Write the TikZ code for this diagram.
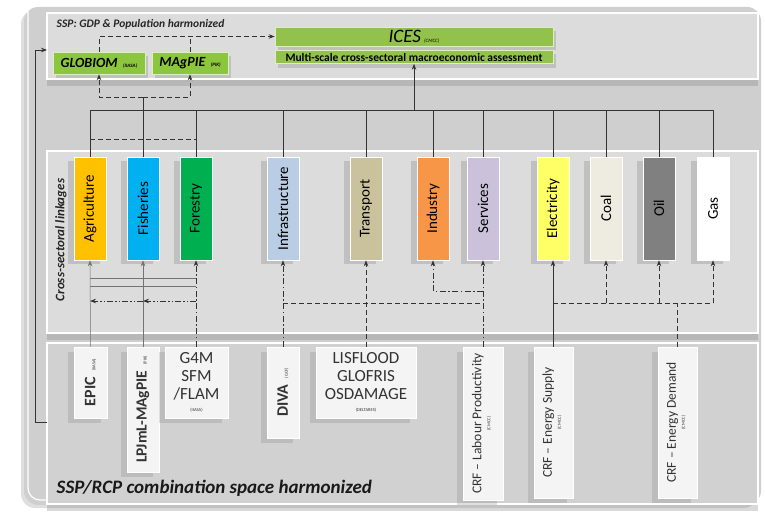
\documentclass[tikz,border=0pt]{standalone}
\usepackage{fontspec}
\setmainfont{Carlito}
\usetikzlibrary{arrows.meta, positioning, shadows}
\usepackage{xcolor}
\usepackage{graphicx}
\definecolor{framegray}{HTML}{CFCFCF}
\definecolor{panelgray}{HTML}{DCDCDC}
\definecolor{linegray}{HTML}{333333}
\definecolor{modelgreen}{HTML}{8CC63F}
\definecolor{icesgreen}{HTML}{93C24C}
\definecolor{boxwhite}{HTML}{F4F4F4}
\definecolor{agricol}{HTML}{FFC000}
\definecolor{fishcol}{HTML}{00B0F0}
\definecolor{forestcol}{HTML}{00B050}
\definecolor{infracol}{HTML}{B9CDE5}
\definecolor{transcol}{HTML}{C9C29C}
\definecolor{indcol}{HTML}{F79646}
\definecolor{servcol}{HTML}{CCC1DA}
\definecolor{eleccol}{HTML}{FFFF66}
\definecolor{coalcol}{HTML}{EEECE1}
\definecolor{oilcol}{HTML}{808080}
\definecolor{gascol}{HTML}{FFFFFF}

\begin{document}
\begin{tikzpicture}[x=1pt, y=-1pt, >={Stealth[length=6pt,width=4.5pt]}, line width=0.8pt]
    \tikzstyle{panel}=[draw=white, line width=1.2pt, fill=panelgray, inner sep=0pt,
        drop shadow={shadow xshift=0pt, shadow yshift=-7pt, opacity=0.3}]
    \tikzstyle{model}=[fill=modelgreen, draw=white!70!modelgreen, line width=0.6pt, inner sep=0pt,
        drop shadow={shadow xshift=3pt, shadow yshift=-4pt, opacity=0.3}]
    \tikzstyle{sector}=[minimum width=32, minimum height=103, inner sep=0pt, draw=white, line width=0.6pt,
        font=\fontsize{15}{17}\selectfont,
        drop shadow={shadow xshift=-6pt, shadow yshift=-4pt, opacity=0.3}]
    \tikzstyle{impact}=[fill=boxwhite, draw=white, line width=0.6pt, inner sep=0pt, text=black!80,
        drop shadow={shadow xshift=-6pt, shadow yshift=-5pt, opacity=0.25}]
    \tikzstyle{link}=[draw=linegray]
    \tikzstyle{dash link}=[link, dash pattern=on 5pt off 3pt]
    \tikzstyle{dot link}=[link, dash pattern=on 6pt off 2.5pt on 1.5pt off 2.5pt]
    \tikzstyle{ddot link}=[link, dash pattern=on 6pt off 2pt on 1.5pt off 2pt on 1.5pt off 2pt]
    \tikzstyle{thin link}=[draw=black!55, line width=0.5pt]

    \useasboundingbox (0,0) rectangle (765,511);

    % Draw the outer frame and the three panels
    \fill[framegray, rounded corners=14pt, drop shadow={shadow xshift=-3pt, shadow yshift=-3pt, opacity=0.25}]
        (24,7) rectangle (761,505);
    \draw[white, line width=1.2pt, rounded corners=12pt] (28,10) -- (28,500) -- (47,500);
    \node[panel, minimum width=711, minimum height=66] (toppanel) at (402.5,46) {};
    \node[panel, minimum width=711, minimum height=182] (midpanel) at (402.5,242) {};
    \node[panel, fill=panelgray!95!black, minimum width=711, minimum height=161] (botpanel) at (402.5,423.5) {};

    \node[anchor=west, text=black!85, font=\bfseries\itshape\fontsize{11.5}{13}\selectfont] (ssptitle) at (53,24)
        {SSP: GDP \& Population harmonized};
    \node[text=black!85, font=\bfseries\itshape\fontsize{13}{15}\selectfont, rotate=90] (crosstitle) at (61,240)
        {Cross-sectoral linkages};
    \node[anchor=west, text=black!90, font=\bfseries\itshape\fontsize{19}{22}\selectfont] (rcptitle) at (53,488)
        {SSP/RCP combination space harmonized};

    % Draw the global models
    \node[model, minimum width=92, minimum height=22] (globiom) at (99,63)
        {\bfseries\itshape\fontsize{14}{16}\selectfont GLOBIOM \,{\fontsize{5}{6}\selectfont(IIASA)}};
    \node[model, minimum width=76, minimum height=22] (magpie) at (190,63)
        {\bfseries\itshape\fontsize{14}{16}\selectfont MAgPIE \,{\fontsize{5}{6}\selectfont(PIK)}};
    \node[model, fill=icesgreen, minimum width=278, minimum height=19] (ices) at (414,36.5)
        {\itshape\fontsize{19}{21}\selectfont ICES\,{\fontsize{5}{6}\selectfont(CMCC)}};
    \node[model, fill=icesgreen, minimum width=278, minimum height=13] (multi) at (414,57)
        {\bfseries\fontsize{11.5}{12}\selectfont Multi-scale cross-sectoral macroeconomic assessment};

    % Draw the sectors
    \foreach \name/\x/\col/\txt in {agri/90/agricol/Agriculture, fish/143/fishcol/Fisheries,
            forest/196/forestcol/Forestry, infra/283/infracol/Infrastructure,
            trans/366/transcol/Transport, ind/433/indcol/Industry, serv/483/servcol/Services,
            elec/553/eleccol/Electricity, coal/606/coalcol/Coal, oil/659/oilcol/Oil, gas/713/gascol/Gas}
        \node[sector, fill=\col] (\name) at (\x,208.5) {\rotatebox{90}{\txt}};

    % Draw the impact models
    \node[impact, minimum width=33, minimum height=71] (epic) at (90.5,382.5)
        {\rotatebox{90}{\bfseries\fontsize{16}{18}\selectfont EPIC \,{\mdseries\fontsize{4.5}{5}\selectfont(IIASA)}}};
    \node[impact, minimum width=32, minimum height=125] (lpj) at (143,409.5)
        {\rotatebox{90}{\bfseries\fontsize{15.5}{17}\selectfont LPJmL-MAgPIE \,{\mdseries\fontsize{4.5}{5}\selectfont(PIK)}}};
    \node[impact, minimum width=63, minimum height=71, align=center, font=\fontsize{17}{18}\selectfont] (g4m) at (196.5,382.5)
        {G4M\\SFM\\/FLAM\\[-6pt]{\fontsize{4.5}{5}\selectfont(IIASA)}};
    \node[impact, minimum width=32, minimum height=91] (diva) at (283,392.5)
        {\rotatebox{90}{\bfseries\fontsize{16}{18}\selectfont DIVA \,{\mdseries\fontsize{4.5}{5}\selectfont(GCF)}}};
    \node[impact, minimum width=100, minimum height=71, align=center, font=\fontsize{17}{18}\selectfont] (lisflood) at (366,382.5)
        {LISFLOOD\\GLOFRIS\\OSDAMAGE\\[-6pt]{\fontsize{4.5}{5}\selectfont(DELTARES)}};
    \node[impact, minimum width=40, minimum height=153] (crflab) at (483,423.5)
        {\rotatebox{90}{\fontsize{13.5}{14}\selectfont\begin{tabular}{@{}c@{}}CRF -- Labour Productivity\\[-5pt]{\fontsize{4.5}{5}\selectfont(CMCC)}\end{tabular}}};
    \node[impact, minimum width=39, minimum height=151] (crfsup) at (553.5,422.5)
        {\rotatebox{90}{\fontsize{13.5}{14}\selectfont\begin{tabular}{@{}c@{}}CRF -- Energy Supply\\[-5pt]{\fontsize{4.5}{5}\selectfont(CMCC)}\end{tabular}}};
    \node[impact, minimum width=39, minimum height=151] (crfdem) at (677.5,422.5)
        {\rotatebox{90}{\fontsize{13.5}{14}\selectfont\begin{tabular}{@{}c@{}}CRF -- Energy Demand\\[-5pt]{\fontsize{4.5}{5}\selectfont(CMCC)}\end{tabular}}};

    % Helper coordinates for the horizontal runs
    \coordinate (split) at (143,97);
    \coordinate (bus) at (0,110);
    \coordinate (landbus) at (0,139);
    \coordinate (dbl1) at (0,278);
    \coordinate (dbl2) at (0,286);
    \coordinate (lpjrun) at (0,301);
    \coordinate (indrun) at (0,291);
    \coordinate (hazrun) at (0,303);
    \coordinate (fbout) at (47,422);
    \coordinate (fbin) at (47,50);

    % Connect the global models with ICES
    \draw[dash link, ->] (globiom.north) |- (ices.west);
    \draw[dash link] (magpie.north) -- (magpie.north |- ices.west);
    \draw[dash link, ->] (split) -| (globiom.south);
    \draw[dash link, ->] (split) -| (magpie.south);
    \draw[link] (split) -- (fish.north);

    % Connect every sector with ICES
    \foreach \name in {agri,forest,infra,trans,ind,serv,elec,coal,oil,gas}
        \draw[link] (\name.north) -- (\name.north |- bus);
    \draw[link] (agri.north |- bus) -- (gas.north |- bus);
    \draw[link, ->] (multi.south |- bus) -- (multi.south);
    \draw[dash link] (agri.north |- landbus) -- (forest.north |- landbus);

    % Connect the impact models with the sectors
    \draw[thin link, ->] (epic.north) -- (agri.south);
    \draw[thin link, ->] (lpj.north) -- (fish.south);
    \draw[dot link, ->] (g4m.north -| forest.south) -- (forest.south);
    \draw[thin link] (agri.south |- dbl1) -- (forest.south |- dbl1);
    \draw[thin link] (agri.south |- dbl2) -- (forest.south |- dbl2);
    \draw[ddot link, ->] (forest.south |- lpjrun) -- (fish.south |- lpjrun);
    \draw[ddot link, ->] (fish.south |- lpjrun) -- (agri.south |- lpjrun);

    \draw[dot link, ->] (diva.north) -- (infra.south);
    \draw[dash link] (infra.south |- hazrun) -- (serv.south |- hazrun);
    \draw[dash link, ->] (lisflood.north) -- (trans.south);
    \draw[dot link, ->] (serv.south |- indrun) -| (ind.south);
    \draw[dot link, ->] (crflab.north -| serv.south) -- (serv.south);

    \draw[link, ->] (crfsup.north -| elec.south) -- (elec.south);
    \draw[dash link] (elec.south |- hazrun) -- (gas.south |- hazrun);
    \draw[dash link] (crfdem.north) -- (crfdem.north |- hazrun);
    \foreach \name in {coal,oil,gas}
        \draw[dash link, ->] (\name.south |- hazrun) -- (\name.south);

    % Feedback to the SSP panel
    \draw[link, ->] (fbout) -- ++(-12,0) |- (fbin);

\end{tikzpicture}
\end{document}
